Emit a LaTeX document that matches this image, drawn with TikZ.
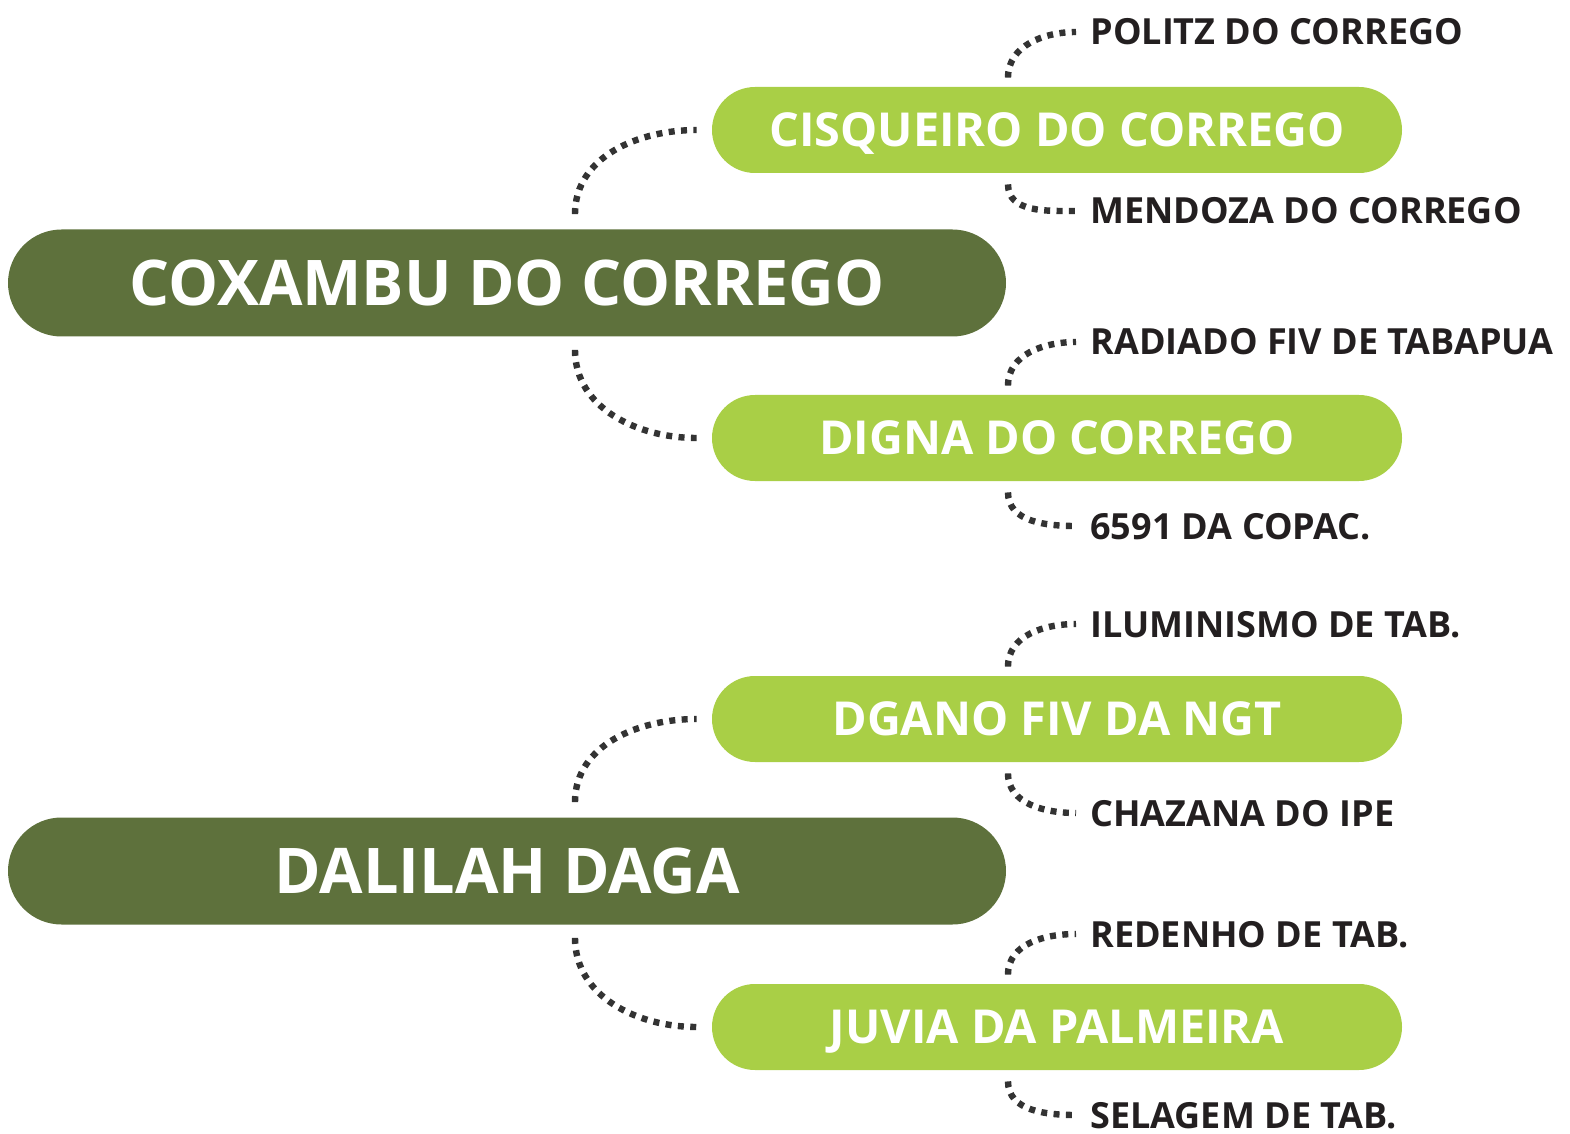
\documentclass[tikz,border=0pt]{standalone}
\usepackage{fontspec}
\setmainfont{Open Sans}
\usetikzlibrary{calc}
\definecolor{darkolive}{HTML}{5E713C}
\definecolor{limegreen}{HTML}{A9CF46}
\definecolor{inkgray}{HTML}{231F20}
\definecolor{dotgray}{HTML}{333333}
\begin{document}
\begin{tikzpicture}[x=0.5pt,y=-0.5pt,
  rootbox/.style={fill=darkolive, text=white, rounded corners=26.75pt, minimum width=499pt, minimum height=53.5pt, text height=22.5pt, text depth=0pt, font=\fontsize{31.5}{36}\selectfont\bfseries},
  subbox/.style={fill=limegreen, text=white, rounded corners=21.5pt, minimum width=345pt, minimum height=43pt, text height=16.7pt, text depth=0pt, font=\fontsize{23.4}{27}\selectfont\bfseries},
  leaftext/.style={anchor=west, inner sep=0pt, text height=13pt, text depth=0pt, text=inkgray, font=\fontsize{18}{21}\selectfont\bfseries},
  link/.style={draw=dotgray, line width=3.2pt, dash pattern=on 3pt off 3.2pt}]
\useasboundingbox (0,0) rectangle (1570,1134);
% main boxes
\node[rootbox] (r1) at (507,283) {COXAMBU DO CORREGO};
\node[rootbox] (r2) at (507,871) {DALILAH DAGA};
% sub boxes and their leaves
\foreach \n/\y/\ya/\yb/\t/\u/\l in {
  c1/130/32/211/CISQUEIRO DO CORREGO/POLITZ DO CORREGO/MENDOZA DO CORREGO,
  c2/438/342/526/DIGNA DO CORREGO/RADIADO FIV DE TABAPUA/6591 DA COPAC.,
  c3/719/624/813/DGANO FIV DA NGT/ILUMINISMO DE TAB./CHAZANA DO IPE,
  c4/1027/934/1115/JUVIA DA PALMEIRA/REDENHO DE TAB./SELAGEM DE TAB.} {
  \node[subbox] (\n) at (1057,\y) {\t};
  \node[leaftext] (\n u) at (1090,\ya) {\u};
  \node[leaftext] (\n l) at (1090,\yb) {\l};
  \draw[link] ($(\n.north)+(-49,-9)$) to[out=90,in=180] ($(\n u.west)+(-14,0)$);
  \draw[link] ($(\n.south)+(-49,11)$) to[out=-90,in=180] ($(\n l.west)+(-14,0)$);
}
% links from main boxes
\draw[link] ($(r1.north)+(68,-15)$) to[out=90,in=180] ($(c1.west)+(-15,0)$);
\draw[link] ($(r1.south)+(68,13)$) to[out=-90,in=180] ($(c2.west)+(-15,0)$);
\draw[link] ($(r2.north)+(68,-15)$) to[out=90,in=180] ($(c3.west)+(-15,0)$);
\draw[link] ($(r2.south)+(68,13)$) to[out=-90,in=180] ($(c4.west)+(-15,0)$);
\end{tikzpicture}
\end{document}
